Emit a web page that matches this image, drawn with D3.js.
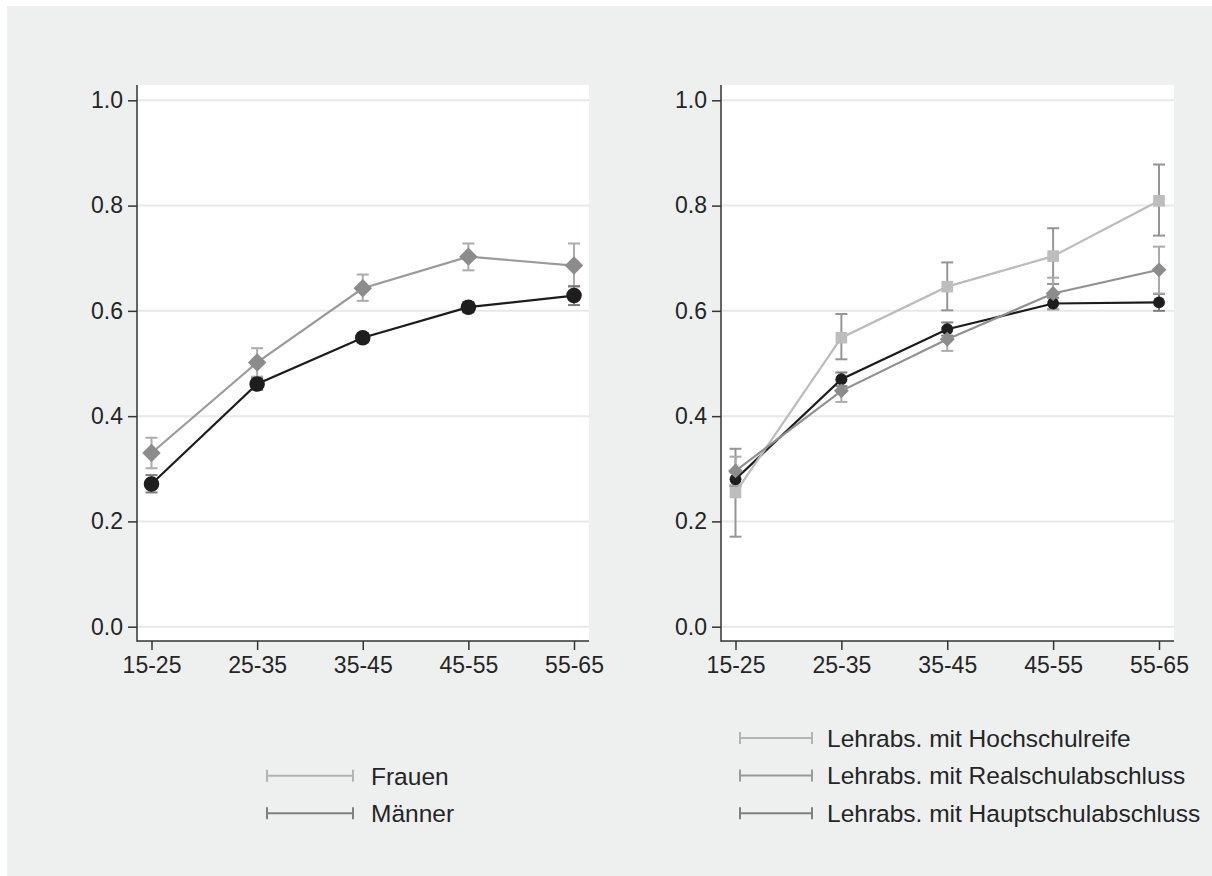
<!DOCTYPE html>
<html>
<head>
<meta charset="utf-8">
<script src="https://cdn.jsdelivr.net/npm/d3@7"></script>
<style>
  body { margin: 0; background: #fff; }
  svg text { font-family: "Liberation Sans", Arial, sans-serif; fill: #252525; }
</style>
</head>
<body>
<svg id="chart" width="1212" height="876"></svg>
<script>
// categories
const ages = ['15-25', '25-35', '35-45', '45-55', '55-65'];
const yTicks = [0, 0.2, 0.4, 0.6, 0.8, 1.0];

// left panel: sex
const frauen    = [0.330, 0.502, 0.643, 0.703, 0.686];
const frauenLo  = [0.301, 0.475, 0.619, 0.677, 0.646];
const frauenHi  = [0.359, 0.529, 0.669, 0.728, 0.728];
const maenner   = [0.271, 0.461, 0.549, 0.607, 0.629];
const maennerLo = [0.255, 0.450, 0.540, 0.597, 0.611];
const maennerHi = [0.288, 0.472, 0.558, 0.617, 0.647];

// right panel: schooling
const hoch     = [0.255, 0.549, 0.646, 0.704, 0.809];
const hochLo   = [0.171, 0.508, 0.601, 0.651, 0.743];
const hochHi   = [0.338, 0.594, 0.692, 0.757, 0.878];
const real     = [0.296, 0.448, 0.546, 0.633, 0.678];
const realLo   = [0.269, 0.427, 0.524, 0.603, 0.633];
const realHi   = [0.323, 0.468, 0.568, 0.663, 0.722];
const haupt    = [0.280, 0.470, 0.565, 0.614, 0.616];
const hauptLo  = [0.267, 0.457, 0.553, 0.603, 0.600];
const hauptHi  = [0.293, 0.483, 0.578, 0.625, 0.632];

const svg = d3.select('#chart');
svg.append('rect').attr('x', 7).attr('y', 6).attr('width', 1205).attr('height', 870).attr('fill', '#eef0ef');

const y = d3.scaleLinear().domain([0, 1]).range([626.7, 100.3]);

function panel(left, right, series, legend) {
	const top = 85, bottom = 641;
	const x = d3.scaleLinear().domain([0, ages.length - 1]).range([left + 14.5, right - 15]);
	const g = svg.append('g');

	g.append('rect').attr('x', left).attr('y', top).attr('width', right - left).attr('height', bottom - top).attr('fill', '#fff');

	// grid
	g.selectAll('.grid').data(yTicks).enter().append('line')
		.attr('x1', left).attr('x2', right)
		.attr('y1', d => y(d)).attr('y2', d => y(d))
		.attr('stroke', '#e8e8e8').attr('stroke-width', 2);

	// axes
	const ya = g.append('g').attr('transform', `translate(${left},0)`)
		.call(d3.axisLeft(y).tickValues(yTicks).tickFormat(d3.format('.1f')).tickSize(9).tickPadding(5));
	const xa = g.append('g').attr('transform', `translate(0,${bottom})`)
		.call(d3.axisBottom(x).tickValues(d3.range(ages.length)).tickFormat(i => ages[i]).tickSize(9).tickPadding(7));
	[ya, xa].forEach(a => {
		a.select('.domain').remove();
		a.selectAll('line').attr('stroke', '#333').attr('stroke-width', 1.5);
		a.selectAll('text').attr('font-size', 23).style('fill', '#252525');
	});
	g.append('line').attr('x1', left).attr('x2', left).attr('y1', top).attr('y2', bottom + 0.75).attr('stroke', '#333').attr('stroke-width', 1.5);
	g.append('line').attr('x1', left).attr('x2', right).attr('y1', bottom).attr('y2', bottom).attr('stroke', '#333').attr('stroke-width', 1.5);

	// confidence intervals
	series.forEach(s => {
		const ci = g.append('g').attr('stroke', s.ciColor).attr('stroke-width', 2).attr('fill', 'none');
		s.lo.forEach((lo, i) => {
			const hi = s.hi[i], cx = x(i);
			ci.append('line').attr('x1', cx).attr('x2', cx).attr('y1', y(lo)).attr('y2', y(hi));
			ci.append('line').attr('x1', cx - 6).attr('x2', cx + 6).attr('y1', y(lo)).attr('y2', y(lo));
			ci.append('line').attr('x1', cx - 6).attr('x2', cx + 6).attr('y1', y(hi)).attr('y2', y(hi));
		});
	});

	// lines + markers
	series.forEach(s => {
		g.append('path').datum(s.values)
			.attr('d', d3.line().x((d, i) => x(i)).y(d => y(d)))
			.attr('fill', 'none').attr('stroke', s.lineColor).attr('stroke-width', 2.2);
		g.selectAll(null).data(s.values).enter().append('path')
			.attr('d', d3.symbol().type(s.symbol).size(s.size))
			.attr('fill', s.markColor)
			.attr('transform', (d, i) => `translate(${x(i)},${y(d)})` + (s.rotate ? ' rotate(45)' : ''));
	});

	// legend
	legend.rows.forEach((r, i) => {
		const ly = legend.y0 + i * legend.dy;
		const lg = g.append('g').attr('stroke', r.color).attr('stroke-width', 2);
		lg.append('line').attr('x1', legend.x1).attr('x2', legend.x2).attr('y1', ly).attr('y2', ly);
		lg.append('line').attr('x1', legend.x1).attr('x2', legend.x1).attr('y1', ly - 6).attr('y2', ly + 6);
		lg.append('line').attr('x1', legend.x2).attr('x2', legend.x2).attr('y1', ly - 6).attr('y2', ly + 6);
		g.append('text').attr('x', legend.tx).attr('y', ly).attr('dy', '0.36em')
			.attr('font-size', 24.5).text(r.label);
	});
}

panel(137, 589, [
	{ values: frauen, lo: frauenLo, hi: frauenHi, lineColor: '#9a9a9a', markColor: '#8c8c8c', ciColor: '#acacac', symbol: d3.symbolSquare, rotate: true, size: 170 },
	{ values: maenner, lo: maennerLo, hi: maennerHi, lineColor: '#1c1c1c', markColor: '#1e1e1e', ciColor: '#7c7c7c', symbol: d3.symbolCircle, size: 190 }
], {
	x1: 267, x2: 353, tx: 371, y0: 775.7, dy: 37.6,
	rows: [
		{ label: 'Frauen', color: '#b4b4b4' },
		{ label: 'Männer', color: '#808080' }
	]
});

panel(721, 1174, [
	{ values: haupt, lo: hauptLo, hi: hauptHi, lineColor: '#1c1c1c', markColor: '#1e1e1e', ciColor: '#808080', symbol: d3.symbolCircle, size: 110 },
	{ values: hoch, lo: hochLo, hi: hochHi, lineColor: '#bcbcbc', markColor: '#bdbdbd', ciColor: '#959595', symbol: d3.symbolSquare, size: 135 },
	{ values: real, lo: realLo, hi: realHi, lineColor: '#909090', markColor: '#8c8c8c', ciColor: '#aaaaaa', symbol: d3.symbolSquare, rotate: true, size: 110 }
], {
	x1: 740, x2: 812, tx: 827, y0: 738, dy: 37.6,
	rows: [
		{ label: 'Lehrabs. mit Hochschulreife', color: '#b4b4b4' },
		{ label: 'Lehrabs. mit Realschulabschluss', color: '#999999' },
		{ label: 'Lehrabs. mit Hauptschulabschluss', color: '#808080' }
	]
});
</script>
</body>
</html>
